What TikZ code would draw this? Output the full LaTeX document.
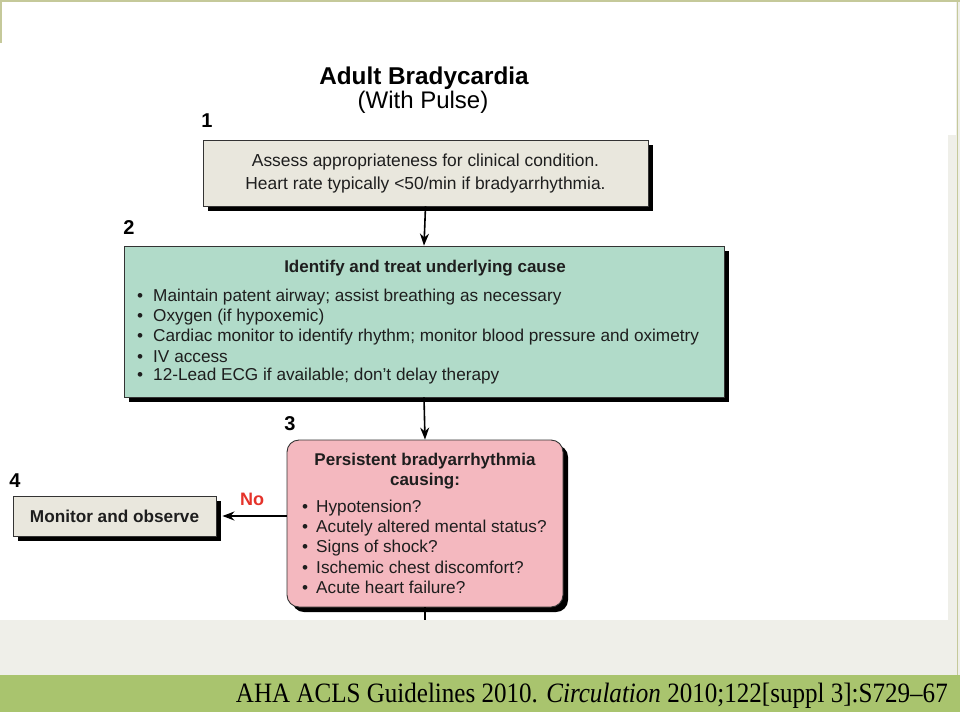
\documentclass[tikz,border=0pt]{standalone}
\usepackage{fontspec}
\usepackage{graphicx}
\setmainfont{Liberation Sans}
\newfontfamily\citefont{Liberation Serif}
\usetikzlibrary{arrows.meta,shadows}

\definecolor{boxbeige}{HTML}{E9E7DD}
\definecolor{boxmint}{HTML}{B1DBC9}
\definecolor{boxpink}{HTML}{F4B8BF}
\definecolor{bandgreen}{HTML}{A9C46E}
\definecolor{pagegray}{HTML}{EFEFE9}
\definecolor{frameolive}{HTML}{C5C99A}
\definecolor{nored}{HTML}{E5322A}
\definecolor{inkdark}{HTML}{1E1E1E}

\tikzset{
    algbox/.style={draw=black!80, line width=0.9pt,
        drop shadow={shadow xshift=5pt, shadow yshift=-5pt, fill=black, opacity=1}},
    plaintxt/.style={inner sep=0pt, text=inkdark, font=\fontsize{17.2}{19.8}\selectfont},
    headtxt/.style={inner sep=0pt, text=inkdark, font=\bfseries\fontsize{17}{20}\selectfont, align=center},
    stepnum/.style={inner sep=0pt, font=\bfseries\fontsize{20}{22}\selectfont},
    flowline/.style={line width=1.6pt, black},
    flowarrow/.style={flowline, -{Stealth[length=12pt, width=9pt]}},
}

\begin{document}
\begin{tikzpicture}[x=1pt, y=-1pt]

        \useasboundingbox (0,0) rectangle (960,712);

        % page behind the picture
        \fill[pagegray] (0,0) rectangle (960,675);
        \fill[white] (0,0) rectangle (948,620);
        \fill[white] (948,0) rectangle (956,135);
        \draw[frameolive, line width=1.5pt] (0,1) -- (960,1);
        \draw[frameolive, line width=1.5pt] (1,0) -- (1,43);
        \draw[frameolive, line width=0.8pt] (957,0) -- (957,675);
        \fill[bandgreen] (0,675) rectangle (960,712);

        % title
        \node[inner sep=0pt, font=\bfseries\fontsize{24.3}{26}\selectfont] (title) at (424,78) {Adult Bradycardia};
        \node[inner sep=0pt, font=\fontsize{24}{26}\selectfont] (subtitle) at (423,102) {(With Pulse)};

        % step numbers
        \foreach \n/\x/\y in {%
            1/207/121,
            2/129/228,
            3/290/424,
            4/15/481%
        }{
            \node[stepnum] (n\n) at (\x, \y) {\n};
        }

        % boxes
        \node[algbox, fill=boxbeige, minimum width=445pt, minimum height=66pt, text=inkdark,
              align=center, font=\fontsize{17.4}{23}\selectfont] (assess) at (425.5,173)
              {Assess appropriateness for clinical condition.\\Heart rate typically <50/min if bradyarrhythmia.};

        \node[algbox, fill=boxmint, minimum width=600pt, minimum height=151pt] (treat) at (424,321.5) {};
        \node[headtxt] (treathead) at (425,268) {Identify and treat underlying cause};
        \foreach \txt [count=\i] in {%
            {Maintain patent airway; assist breathing as necessary},
            {Oxygen (if hypoxemic)},
            {Cardiac monitor to identify rhythm; monitor blood pressure and oximetry},
            {IV access},
            {12-Lead ECG if available; don't delay therapy}%
        }{
            \node[plaintxt, anchor=west] (cause\i) at (137, 277.5+19.8*\i) {\textbullet\hspace{10pt}\txt};
        }

        \node[algbox, fill=boxpink, rounded corners=12pt, minimum width=276pt, minimum height=167pt] (persist) at (425,523.5) {};
        \node[headtxt] (persisthead) at (425,471) {Persistent bradyarrhythmia\\causing:};
        \foreach \txt [count=\i] in {%
            {Hypotension?},
            {Acutely altered mental status?},
            {Signs of shock?},
            {Ischemic chest discomfort?},
            {Acute heart failure?}%
        }{
            \node[plaintxt, anchor=west] (sign\i) at (302, 488.2+19.8*\i) {\textbullet\hspace{8pt}\txt};
        }

        \node[algbox, fill=boxbeige, minimum width=203pt, minimum height=40pt, text=inkdark,
              font=\bfseries\fontsize{17.2}{19}\selectfont] (monitor) at (114.5,516) {Monitor and observe};

        % connectors
        \coordinate (exitpt) at (425,620);
        \draw[flowarrow] (assess.south) -- (treat.north);
        \draw[flowarrow] (treat.south) -- (persist.north);
        \draw[flowarrow] (monitor.east -| persist.west) -- ([xshift=6pt]monitor.east);
        \draw[flowline] (persist.south) -- (exitpt);
        \node[inner sep=0pt, text=nored, font=\bfseries\fontsize{18}{20}\selectfont] (nolabel) at (252,499) {No};

        % citation
        \node[anchor=base east, inner sep=0pt, font=\citefont\fontsize{28}{30}\selectfont] (cite) at (948,702)
            {\scalebox{0.895}[1]{AHA ACLS Guidelines 2010. \textit{Circulation} 2010;122[suppl 3]:S729–67}};

\end{tikzpicture}
\end{document}
